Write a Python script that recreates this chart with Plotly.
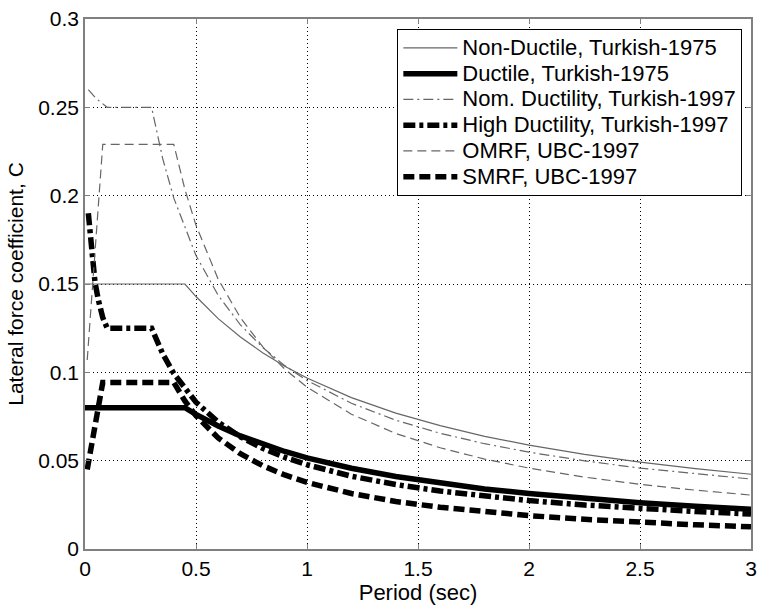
import plotly.graph_objects as go

# ---- data ----
t75_T = [0, 0.45, 0.5, 0.6, 0.7, 0.8, 0.9, 1.0, 1.2, 1.4, 1.6, 1.8, 2.0, 2.25, 2.5, 2.75, 3.0]
nonductile_C = [0.150, 0.150, 0.1429, 0.1304, 0.1200, 0.1111, 0.1034, 0.0968, 0.0857, 0.0769,
                0.0698, 0.0638, 0.0588, 0.0536, 0.0492, 0.0455, 0.0423]
ductile_C = [0.080, 0.080, 0.0762, 0.0696, 0.0640, 0.0593, 0.0552, 0.0516, 0.0457, 0.0410,
             0.0372, 0.0340, 0.0314, 0.0286, 0.0262, 0.0242, 0.0225]

nom_T = [0.015, 0.05, 0.1, 0.3, 0.35, 0.4, 0.5, 0.6, 0.7, 0.8, 0.9, 1.0, 1.2, 1.4, 1.6, 1.8,
         2.0, 2.25, 2.5, 2.75, 3.0]
nom_C = [0.260, 0.255, 0.250, 0.250, 0.2210, 0.1986, 0.1661, 0.1436, 0.1269, 0.1141, 0.1038,
         0.0954, 0.0825, 0.0729, 0.0655, 0.0596, 0.0548, 0.0499, 0.0458, 0.0425, 0.0396]

high_T = [0.015, 0.03, 0.045, 0.06, 0.08, 0.1, 0.3, 0.35, 0.4, 0.5, 0.6, 0.7, 0.8, 0.9, 1.0,
          1.2, 1.4, 1.6, 1.8, 2.0, 2.25, 2.5, 2.75, 3.0]
high_C = [0.190, 0.168, 0.151, 0.141, 0.131, 0.125, 0.125, 0.1105, 0.0993, 0.0831, 0.0718,
          0.0635, 0.0570, 0.0519, 0.0477, 0.0412, 0.0365, 0.0328, 0.0298, 0.0274, 0.0249,
          0.0229, 0.0212, 0.0198]

ubc_T = [0.01, 0.08, 0.4, 0.45, 0.5, 0.6, 0.7, 0.8, 0.9, 1.0, 1.2, 1.4, 1.6, 1.8, 2.0, 2.25,
         2.5, 2.75, 3.0]
omrf_C = [0.107, 0.229, 0.229, 0.2036, 0.1832, 0.1527, 0.1309, 0.1145, 0.1018, 0.0916, 0.0763,
          0.0654, 0.0573, 0.0509, 0.0458, 0.0407, 0.0366, 0.0333, 0.0305]
smrf_C = [0.045, 0.0943, 0.0943, 0.0838, 0.0754, 0.0629, 0.0539, 0.0472, 0.0419, 0.0377, 0.0314,
          0.0269, 0.0236, 0.0210, 0.0189, 0.0168, 0.0151, 0.0137, 0.0126]

x_ticks = [0, 0.5, 1, 1.5, 2, 2.5, 3]
y_ticks = [0, 0.05, 0.1, 0.15, 0.2, 0.25, 0.3]
x_tick_text = ["0", "0.5", "1", "1.5", "2", "2.5", "3"]
y_tick_text = ["0", "0.05", "0.1", "0.15", "0.2", "0.25", "0.3"]

series = [
    ("Non-Ductile, Turkish-1975", t75_T, nonductile_C, dict(color="#666666", width=1.2, dash="solid")),
    ("Ductile, Turkish-1975", t75_T, ductile_C, dict(color="black", width=5.5, dash="solid")),
    ("Nom. Ductility, Turkish-1997", nom_T, nom_C, dict(color="#666666", width=1.2, dash="10px,4px,2px,4px")),
    ("High Ductility, Turkish-1997", high_T, high_C, dict(color="black", width=5.5, dash="12px,4px,4px,4px")),
    ("OMRF, UBC-1997", ubc_T, omrf_C, dict(color="#666666", width=1.2, dash="9px,5px")),
    ("SMRF, UBC-1997", ubc_T, smrf_C, dict(color="black", width=5.5, dash="11px,5px")),
]

FONT = "Liberation Sans, Arial, sans-serif"

fig = go.Figure()
for name, xs, ys, line in series:
    fig.add_trace(go.Scatter(
        x=xs, y=ys, mode="lines",
        name='<span style="font-size:22px">' + name + "</span>",
        line=line))

axis_common = dict(
    showgrid=True, gridcolor="black", griddash="1px,3px", gridwidth=1,
    showline=True, linecolor="#808080", linewidth=1.5, mirror="ticks",
    ticks="inside", ticklen=5, tickcolor="#808080", zeroline=False,
    tickfont=dict(size=21, color="black", family=FONT),
)

fig.update_layout(
    width=762, height=609,
    margin=dict(l=85, r=5, t=19, b=60),
    paper_bgcolor="white", plot_bgcolor="white",
    font=dict(family=FONT, size=20, color="black"),
    xaxis=dict(range=[0, 3], tickvals=x_ticks, ticktext=x_tick_text,
               title=dict(text="Period (sec)", standoff=4, font=dict(size=22, family=FONT)),
               **axis_common),
    yaxis=dict(range=[0, 0.3], tickvals=y_ticks, ticktext=y_tick_text,
               title=dict(text="Lateral force coefficient, C", standoff=9,
                          font=dict(size=21, family=FONT)),
               **axis_common),
    legend=dict(x=0.987, xanchor="right", y=0.981, yanchor="top",
                bordercolor="black", borderwidth=1, bgcolor="white",
                font=dict(size=17.5, family=FONT), tracegroupgap=0, itemwidth=54),
    showlegend=True,
)

fig.write_html("out.html")
